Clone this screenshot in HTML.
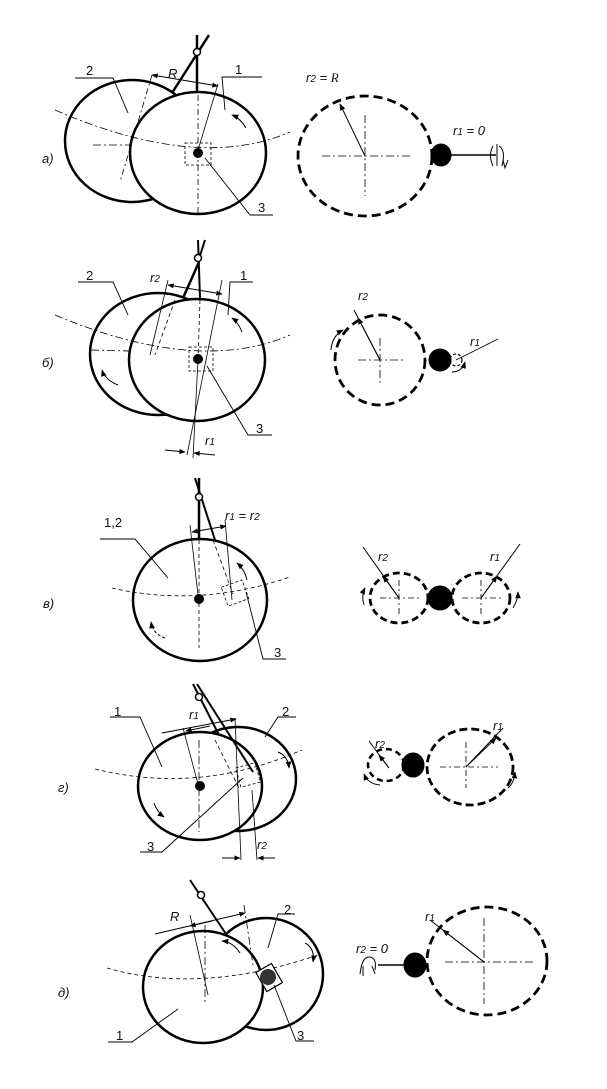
<!DOCTYPE html>
<html><head><meta charset="utf-8"><style>
body{margin:0;background:#fff}
svg{display:block}
text{font-family:"Liberation Sans",sans-serif;font-size:13px;fill:#111}
.i{font-style:italic}
</style></head><body>
<svg width="607" height="1089" viewBox="0 0 607 1089" xmlns="http://www.w3.org/2000/svg">
<defs>
<marker id="ar" viewBox="0 0 10 10" refX="9" refY="5" markerWidth="7" markerHeight="7" orient="auto-start-reverse"><path d="M0,1 L10,5 L0,9 z" fill="#000"/></marker>
</defs>
<g fill="none" stroke="#000">
<!-- ===== Panel a ===== -->
<ellipse cx="132" cy="141" rx="67" ry="61" stroke-width="2.5" fill="#fff"/>
<ellipse cx="198" cy="153" rx="68" ry="61" stroke-width="2.5" fill="#fff"/>
<path d="M55,110 Q198,172 290,132" stroke-width="0.8" stroke-dasharray="8,3,2,3"/>
<line x1="93" y1="145" x2="130" y2="145" stroke-width="0.8" stroke-dasharray="8,3,2,3"/>
<line x1="198" y1="95" x2="198" y2="213" stroke-width="0.8" stroke-dasharray="6,3,2,3"/>
<line x1="152" y1="75" x2="120" y2="182" stroke-width="0.8" stroke-dasharray="6,3,2,3"/>
<line x1="218" y1="84" x2="198" y2="150" stroke-width="0.8"/>
<line x1="152" y1="75" x2="218" y2="86" stroke-width="0.9" marker-start="url(#ar)" marker-end="url(#ar)"/>
<line x1="197" y1="93" x2="197" y2="35" stroke-width="2.5"/>
<line x1="172" y1="93" x2="209" y2="35" stroke-width="2.5"/>
<circle cx="197" cy="52" r="3.5" fill="#fff" stroke-width="1.5"/>
<rect x="185" y="143" width="26" height="22" stroke-width="0.8" stroke-dasharray="3,2"/>
<circle cx="198" cy="153" r="5" fill="#000" stroke="none"/>
<path d="M75,78 H113 L128,113" stroke-width="0.9"/>
<path d="M262,77 H222 L225,110" stroke-width="0.9"/>
<path d="M205,158 L250,215 H273" stroke-width="0.9"/>
<path d="M246,128 Q240,118 232,115" stroke-width="1" marker-end="url(#ar)"/>
<!-- right a -->
<ellipse cx="365" cy="156" rx="67" ry="60" stroke-width="2.8" stroke-dasharray="9,5"/>
<line x1="322" y1="156" x2="412" y2="156" stroke-width="0.8" stroke-dasharray="8,3,2,3"/>
<line x1="365" y1="115" x2="365" y2="196" stroke-width="0.8" stroke-dasharray="8,3,2,3"/>
<line x1="365" y1="156" x2="340" y2="104" stroke-width="1" marker-end="url(#ar)"/>
<ellipse cx="441" cy="155" rx="10" ry="11" fill="#000"/>
<line x1="450" y1="155" x2="496" y2="155" stroke-width="1.5"/>
<path d="M493,146 Q488,155 493,166 M499,146 Q506,150 502,166" stroke-width="1"/>
<path d="M497,144 L497,166 M503,160 L505,168 L508,160" stroke-width="1"/>

<!-- ===== Panel б ===== -->
<ellipse cx="158" cy="354" rx="68" ry="61" stroke-width="2.5" fill="#fff"/>
<ellipse cx="197" cy="360" rx="68" ry="61" stroke-width="2.5" fill="#fff"/>
<path d="M55,315 Q198,375 290,335" stroke-width="0.8" stroke-dasharray="8,3,2,3"/>
<line x1="91" y1="350" x2="130" y2="351" stroke-width="0.8" stroke-dasharray="8,3,2,3"/>
<line x1="200" y1="300" x2="198" y2="360" stroke-width="0.8" stroke-dasharray="4,3"/>
<line x1="175" y1="300" x2="155" y2="355" stroke-width="0.8" stroke-dasharray="4,3"/>
<line x1="168" y1="280" x2="150" y2="355" stroke-width="0.8"/>
<line x1="222" y1="280" x2="187" y2="455" stroke-width="0.8"/>
<line x1="198" y1="360" x2="193" y2="458" stroke-width="0.8"/>
<line x1="168" y1="285" x2="222" y2="294" stroke-width="0.9" marker-start="url(#ar)" marker-end="url(#ar)"/>
<line x1="165" y1="450" x2="185" y2="452" stroke-width="0.9" marker-end="url(#ar)"/>
<line x1="215" y1="455" x2="194" y2="453" stroke-width="0.9" marker-end="url(#ar)"/>
<line x1="183" y1="298" x2="199" y2="262" stroke-width="2.5"/>
<line x1="200" y1="298" x2="198" y2="240" stroke-width="2"/>
<line x1="198" y1="262" x2="205" y2="240" stroke-width="2"/>
<circle cx="198" cy="258" r="3.5" fill="#fff" stroke-width="1.5"/>
<rect x="189" y="347" width="24" height="24" stroke-width="0.8" stroke-dasharray="3,2"/>
<circle cx="198" cy="359" r="5" fill="#000" stroke="none"/>
<path d="M78,282 H113 L128,315" stroke-width="0.9"/>
<path d="M253,282 H230 L228,315" stroke-width="0.9"/>
<path d="M207,366 L248,435 H272" stroke-width="0.9"/>
<path d="M242,332 Q238,322 232,318" stroke-width="1" marker-end="url(#ar)"/>
<path d="M118,385 Q105,380 102,370" stroke-width="1" marker-end="url(#ar)"/>
<!-- right б -->
<circle cx="380" cy="360" r="45" stroke-width="2.8" stroke-dasharray="9,5"/>
<line x1="358" y1="360" x2="405" y2="360" stroke-width="0.8" stroke-dasharray="8,3,2,3"/>
<line x1="380" y1="338" x2="380" y2="384" stroke-width="0.8" stroke-dasharray="8,3,2,3"/>
<line x1="380" y1="360" x2="354" y2="310" stroke-width="1"/>
<line x1="380" y1="360" x2="358" y2="318" stroke-width="1" marker-end="url(#ar)"/>
<path d="M331,350 Q332,336 343,330" stroke-width="1" marker-end="url(#ar)"/>
<ellipse cx="440" cy="360" rx="11" ry="11" fill="#000"/>
<circle cx="456" cy="360" r="6" stroke-width="1.2" stroke-dasharray="3,2"/>
<line x1="456" y1="360" x2="498" y2="339" stroke-width="0.9"/>
<path d="M452,372 Q462,372 465,362" stroke-width="1" marker-end="url(#ar)"/>

<!-- ===== Panel в ===== -->
<ellipse cx="200" cy="600" rx="67" ry="61" stroke-width="2.5" fill="#fff"/>
<path d="M112,588 Q199,608 290,577" stroke-width="0.8" stroke-dasharray="4,3"/>
<line x1="199" y1="540" x2="199" y2="648" stroke-width="0.8" stroke-dasharray="4,3"/>
<line x1="190" y1="525" x2="198" y2="595" stroke-width="0.8"/>
<line x1="225" y1="520" x2="232" y2="600" stroke-width="0.8"/>
<line x1="213" y1="540" x2="233" y2="594" stroke-width="0.8" stroke-dasharray="4,3"/>
<line x1="192" y1="532" x2="226" y2="526" stroke-width="0.9" marker-start="url(#ar)" marker-end="url(#ar)"/>
<line x1="199" y1="540" x2="199" y2="478" stroke-width="2.5"/>
<line x1="215" y1="540" x2="195" y2="478" stroke-width="2"/>
<circle cx="199" cy="497" r="3.5" fill="#fff" stroke-width="1.5"/>
<g transform="rotate(-20 235 593)"><rect x="224" y="583" width="22" height="20" stroke-width="0.8" stroke-dasharray="3,2"/></g>
<circle cx="199" cy="599" r="5" fill="#000" stroke="none"/>
<path d="M100,539 H135 L168,578" stroke-width="0.9"/>
<path d="M246,592 L263,659 H286" stroke-width="0.9"/>
<path d="M247,580 Q245,570 237,563" stroke-width="1" marker-end="url(#ar)"/>
<path d="M165,638 Q153,634 151,622" stroke-width="1" stroke-dasharray="3,2" marker-end="url(#ar)"/>
<!-- right в -->
<ellipse cx="399" cy="598" rx="29" ry="25" stroke-width="2.8" stroke-dasharray="7,4"/>
<ellipse cx="481" cy="598" rx="29" ry="25" stroke-width="2.8" stroke-dasharray="7,4"/>
<line x1="380" y1="598" x2="420" y2="598" stroke-width="0.8" stroke-dasharray="6,3,2,3"/>
<line x1="399" y1="580" x2="399" y2="615" stroke-width="0.8" stroke-dasharray="6,3,2,3"/>
<line x1="462" y1="598" x2="502" y2="598" stroke-width="0.8" stroke-dasharray="6,3,2,3"/>
<line x1="481" y1="580" x2="481" y2="615" stroke-width="0.8" stroke-dasharray="6,3,2,3"/>
<ellipse cx="440" cy="598" rx="12" ry="12" fill="#000"/>
<line x1="363" y1="547" x2="399" y2="598" stroke-width="1"/>
<line x1="399" y1="598" x2="383" y2="576" stroke-width="1" marker-end="url(#ar)"/>
<line x1="520" y1="544" x2="481" y2="598" stroke-width="1"/>
<line x1="481" y1="598" x2="497" y2="576" stroke-width="1" marker-end="url(#ar)"/>
<path d="M364,605 Q361,596 365,588" stroke-width="1" marker-end="url(#ar)"/>
<path d="M513,608 Q518,600 518,592" stroke-width="1" marker-end="url(#ar)"/>

<!-- ===== Panel г ===== -->
<ellipse cx="238" cy="779" rx="58" ry="52" stroke-width="2.5" fill="#fff"/>
<ellipse cx="200" cy="786" rx="62" ry="54" stroke-width="2.5" fill="#fff"/>
<path d="M95,769 Q200,795 302,750" stroke-width="0.8" stroke-dasharray="4,3"/>
<line x1="199" y1="740" x2="199" y2="832" stroke-width="0.8" stroke-dasharray="8,3,2,3"/>
<line x1="183" y1="728" x2="198" y2="784" stroke-width="0.8"/>
<line x1="235" y1="718" x2="241" y2="860" stroke-width="0.8"/>
<line x1="252" y1="790" x2="257" y2="860" stroke-width="0.8"/>
<line x1="162" y1="733" x2="236" y2="719" stroke-width="0.9" marker-end="url(#ar)"/>
<line x1="210" y1="726" x2="186" y2="731" stroke-width="0.9" marker-end="url(#ar)"/>
<line x1="222" y1="858" x2="240" y2="858" stroke-width="0.9" marker-end="url(#ar)"/>
<line x1="275" y1="858" x2="258" y2="858" stroke-width="0.9" marker-end="url(#ar)"/>
<line x1="193" y1="684" x2="219" y2="735" stroke-width="2"/>
<line x1="197" y1="684" x2="253" y2="772" stroke-width="2"/>
<circle cx="199" cy="697" r="3.5" fill="#fff" stroke-width="1.5"/>
<line x1="215" y1="740" x2="240" y2="790" stroke-width="0.8" stroke-dasharray="4,3"/>
<g transform="rotate(-15 248 775)"><rect x="238" y="765" width="20" height="20" stroke-width="0.8" stroke-dasharray="3,2"/></g>
<line x1="257" y1="765" x2="262" y2="782" stroke-width="1.5"/>
<circle cx="200" cy="786" r="5" fill="#000" stroke="none"/>
<path d="M110,717 H140 L162,767" stroke-width="0.9"/>
<path d="M296,717 H278 L265,737" stroke-width="0.9"/>
<path d="M243,778 L162,852 H140" stroke-width="0.9"/>
<path d="M278,752 Q288,756 289,768" stroke-width="1" marker-end="url(#ar)"/>
<path d="M154,803 Q157,812 164,817" stroke-width="1" marker-end="url(#ar)"/>
<!-- right г -->
<ellipse cx="386" cy="765" rx="18" ry="16" stroke-width="2.5" stroke-dasharray="6,4"/>
<ellipse cx="470" cy="767" rx="43" ry="38" stroke-width="2.8" stroke-dasharray="8,4"/>
<line x1="440" y1="767" x2="498" y2="767" stroke-width="0.8" stroke-dasharray="6,3,2,3"/>
<line x1="466" y1="742" x2="466" y2="788" stroke-width="0.8" stroke-dasharray="6,3,2,3"/>
<line x1="466" y1="767" x2="503" y2="728" stroke-width="1"/>
<line x1="466" y1="767" x2="496" y2="738" stroke-width="1" marker-end="url(#ar)"/>
<line x1="369" y1="741" x2="389" y2="768" stroke-width="1"/>
<line x1="389" y1="768" x2="379" y2="755" stroke-width="1" marker-end="url(#ar)"/>
<ellipse cx="413" cy="765" rx="11" ry="12" fill="#000"/>
<path d="M380,785 Q368,784 364,774" stroke-width="1" marker-end="url(#ar)"/>
<path d="M508,788 Q514,783 515,772" stroke-width="1" marker-end="url(#ar)"/>

<!-- ===== Panel д ===== -->
<ellipse cx="266" cy="974" rx="57" ry="56" stroke-width="2.5" fill="#fff"/>
<ellipse cx="203" cy="987" rx="60" ry="56" stroke-width="2.5" fill="#fff"/>
<path d="M107,968 Q200,995 318,955" stroke-width="0.8" stroke-dasharray="4,3"/>
<line x1="205" y1="925" x2="205" y2="1005" stroke-width="0.8" stroke-dasharray="8,3,2,3"/>
<line x1="190" y1="915" x2="208" y2="995" stroke-width="0.8"/>
<line x1="244" y1="905" x2="253" y2="965" stroke-width="0.8" stroke-dasharray="8,3,2,3"/>
<line x1="155" y1="934" x2="245" y2="913" stroke-width="0.9" marker-end="url(#ar)"/>
<line x1="212" y1="921" x2="190" y2="926" stroke-width="0.9" marker-end="url(#ar)"/>
<line x1="190" y1="880" x2="226" y2="934" stroke-width="2"/>
<circle cx="201" cy="895" r="3.5" fill="#fff" stroke-width="1.5"/>
<g transform="rotate(-30 270 977)"><rect x="260" y="966" width="18" height="22" fill="#fff" stroke-width="1.2"/></g>
<circle cx="268" cy="977" r="8" fill="#333" stroke="none"/>
<path d="M108,1042 H132 L178,1009" stroke-width="0.9"/>
<path d="M295,914 H278 L268,948" stroke-width="0.9"/>
<path d="M274,985 L296,1041 H314" stroke-width="0.9"/>
<path d="M240,953 Q233,942 222,941" stroke-width="1" marker-end="url(#ar)"/>
<path d="M305,943 Q315,948 313,962" stroke-width="1" marker-end="url(#ar)"/>
<!-- right д -->
<ellipse cx="487" cy="961" rx="60" ry="54" stroke-width="2.8" stroke-dasharray="9,5"/>
<line x1="445" y1="962" x2="533" y2="962" stroke-width="0.8" stroke-dasharray="8,3,2,3"/>
<line x1="484" y1="918" x2="484" y2="1004" stroke-width="0.8" stroke-dasharray="8,3,2,3"/>
<line x1="484" y1="962" x2="430" y2="920" stroke-width="1"/>
<line x1="484" y1="962" x2="443" y2="930" stroke-width="1" marker-end="url(#ar)"/>
<ellipse cx="415" cy="965" rx="11" ry="12" fill="#000"/>
<line x1="378" y1="965" x2="404" y2="965" stroke-width="1.5"/>
<path d="M360,974 Q362,956 370,957 Q377,958 375,970" stroke-width="1"/>
<path d="M363,976 L363,966 M372,966 L375,974" stroke-width="1"/>
</g>
<!-- Labels -->
<text x="42" y="163" class="i">a)</text>
<text x="86" y="75">2</text>
<text x="235" y="74">1</text>
<text x="258" y="212">3</text>
<text x="168" y="78" class="i" font-family="Liberation Serif">R</text>
<text x="306" y="82" class="i">r<tspan font-size="10">2</tspan> = <tspan font-family="Liberation Serif">R</tspan></text>
<text x="453" y="135" class="i">r<tspan font-size="10">1</tspan> = 0</text>

<text x="42" y="367" class="i">б)</text>
<text x="86" y="280">2</text>
<text x="240" y="280">1</text>
<text x="256" y="433">3</text>
<text x="150" y="282" class="i">r<tspan font-size="10">2</tspan></text>
<text x="205" y="445" class="i">r<tspan font-size="10">1</tspan></text>
<text x="358" y="300" class="i">r<tspan font-size="10">2</tspan></text>
<text x="470" y="346" class="i">r<tspan font-size="10">1</tspan></text>

<text x="43" y="608" class="i">в)</text>
<text x="104" y="527">1,2</text>
<text x="274" y="657">3</text>
<text x="225" y="520" class="i">r<tspan font-size="10">1</tspan> = r<tspan font-size="10">2</tspan></text>
<text x="378" y="561" class="i">r<tspan font-size="10">2</tspan></text>
<text x="490" y="561" class="i">r<tspan font-size="10">1</tspan></text>

<text x="58" y="792" class="i">г)</text>
<text x="114" y="716">1</text>
<text x="282" y="716">2</text>
<text x="147" y="851">3</text>
<text x="189" y="719" class="i">r<tspan font-size="10">1</tspan></text>
<text x="257" y="849" class="i">r<tspan font-size="10">2</tspan></text>
<text x="375" y="748" class="i">r<tspan font-size="10">2</tspan></text>
<text x="493" y="730" class="i">r<tspan font-size="10">1</tspan></text>

<text x="58" y="997" class="i">д)</text>
<text x="116" y="1040">1</text>
<text x="284" y="914">2</text>
<text x="297" y="1040">3</text>
<text x="170" y="921" class="i" font-family="Liberation Serif">R</text>
<text x="356" y="953" class="i">r<tspan font-size="10">2</tspan> = 0</text>
<text x="425" y="921" class="i">r<tspan font-size="10">1</tspan></text>
</svg>
</body></html>
